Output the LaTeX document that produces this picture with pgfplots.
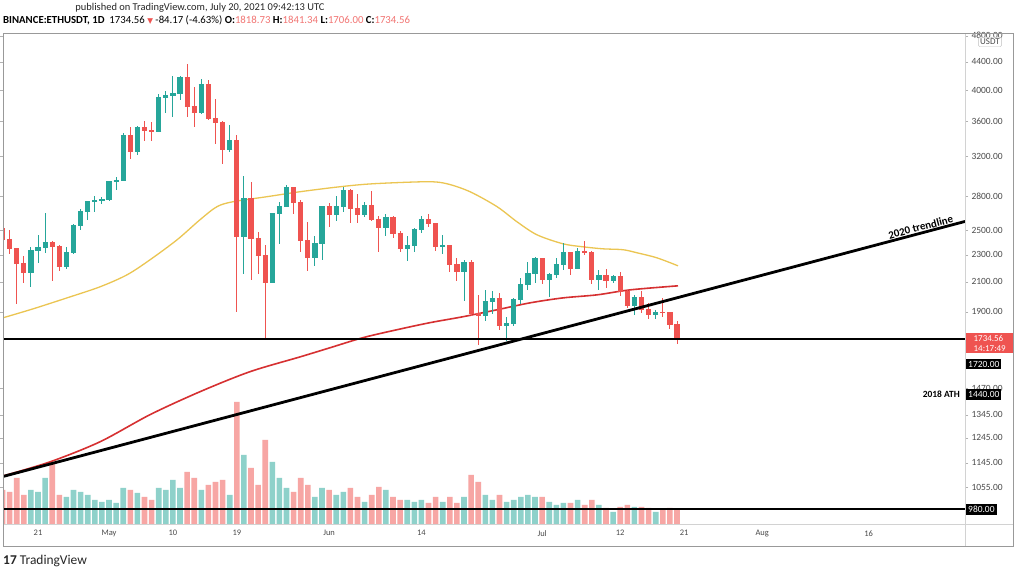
\documentclass[border=0pt]{standalone}
\usepackage{pgfplots}
\pgfplotsset{compat=1.18}
\usepackage{pgfplotstable}
\usepackage{fontspec}
\setmainfont{Carlito}
\newfontfamily\symfont{DejaVu Sans}

\definecolor{up}{HTML}{26A69A}
\definecolor{down}{HTML}{EF5350}
\definecolor{ma50}{HTML}{EBC552}
\definecolor{ma200}{HTML}{D63031}
\definecolor{txt}{HTML}{4A4A4A}

% day number d: 0 = 1 May 2021; v = volume (thousand ETH)
\pgfplotstableread{
d   o       h       l      c       v
-11 2165    2364    2067   2331    1020
-10 2331    2460    2240   2357    960
-9  2357    2644    2315   2398    1380
-6  2213    2363    2197   2315    810
-5  2315    2550    2307   2534    1020
-4  2534    2685    2502   2662    960
-3  2662    2760    2585   2747    870
-2  2747    2798    2660   2757    720
-1  2757    2796    2725   2774    660
0   2774    2950    2760   2945    720
1   2945    2985    2862   2950    630
2   2950    3457    2945   3431    1080
4   3253    3542    3211   3524    930
7   3484    3948    3480   3904    1080
8   3904    3984    3700   3928    1020
9   3928    4197    3650   3952    1320
10  3952    4198    3862   4168    1080
13  3715    4147    3691   4079    1020
17  3280    3562    3250   3382    870
19  2445    2993    2160   2775    2070
23  2097    2646    2097   2643    1860
24  2643    2750    2382   2706    1380
25  2706    2910    2701   2887    1080
29  2282    2448    2218   2389    810
30  2389    2709    2262   2707    1080
32  2634    2800    2580   2707    870
33  2707    2890    2652   2856    960
36  2630    2744    2612   2715    660
39  2517    2640    2448   2609    1020
42  2353    2448    2250   2372    720
43  2372    2521    2325   2508    660
44  2508    2620    2475   2587    720
47  2366    2455    2307   2373    660
50  2174    2260    1970   2245    810
53  1875    2044    1843   1970    870
54  1970    2040    1887   1990    720
56  1813    1870    1720   1829    660
57  1829    1991    1813   1982    720
58  1982    2131    1952   2080    810
59  2080    2242    2045   2160    870
60  2160    2283    2092   2275    810
62  2114    2165    2000   2150    660
63  2150    2275    2125   2226    570
64  2226    2390    2188   2322    630
66  2198    2351    2190   2323    720
69  2115    2185    2044   2146    570
71  2112    2151    2095   2140    360
74  1940    2013    1880   1995    510
77  1880    1913    1855   1898    360
}\upT

\pgfplotstableread{
d   o       h       l      c       v
-15 2515    2548    2300   2423    1020
-14 2423    2497    2303   2347    960
-13 2347    2357    1950   2236    1380
-12 2236    2290    2090   2165    870
-8  2398    2410    2110   2364    1860
-7  2364    2374    2180   2213    870
3   3431    3530    3169   3253    1020
5   3524    3600    3368   3491    810
6   3491    3590    3373   3484    720
11  4168    4372    3650   3785    1560
12  3785    4037    3530   3715    1380
14  4079    4130    3622   3640    1170
15  3640    3884    3340   3587    1260
16  3587    3609    3120   3280    1320
18  3382    3437    1900   2445    3660
20  2775    2938    2113   2430    1680
21  2430    2485    2160   2295    1170
22  2295    2380    1728   2097    2520
26  2887    2891    2636   2742    960
27  2742    2762    2321   2417    1380
28  2417    2570    2177   2282    1170
31  2707    2740    2528   2634    1020
34  2856    2867    2560   2689    1080
35  2689    2818    2558   2630    810
37  2715    2846    2580   2590    870
38  2590    2620    2320   2517    1110
40  2609    2620    2435   2472    810
41  2472    2494    2320   2353    720
45  2587    2634    2524   2552    630
46  2552    2556    2331   2366    810
48  2373    2378    2175   2226    810
49  2226    2275    2110   2174    630
51  2245    2260    1872   1888    1470
52  1888    2013    1700   1875    1260
55  1990    2024    1788   1813    870
61  2275    2276    2085   2114    810
65  2322    2324    2150   2198    630
67  2323    2410    2300   2317    570
68  2317    2329    2083   2115    720
70  2146    2190    2060   2112    480
72  2140    2175    2005   2036    510
73  2036    2046    1923   1940    570
75  1995    2035    1890   1912    510
76  1912    1958    1856   1880    480
78  1898    1990    1870   1894    420
79  1894    1897    1791   1819    480
80  1818.73 1841.34 1706   1734.56 420
}\downT

% moving averages
\pgfplotstableread{
d      p
-14.93 1862
-10.7  1919
-5.92  1991
-1.27  2066
2.54   2151
5.77   2262
9.58   2419
12.82  2588
15.21  2704
17.46  2749
22.25  2796
26.9   2843
32.54  2891
37.18  2920
44.79  2940
47.6   2920
50.85  2843
54.65  2704
57.46  2570
60.28  2460
63.94  2387
66.76  2363
69.58  2347
72.39  2340
74.37  2316
77.18  2277
80.14  2217
}\maA

\pgfplotstableread{
d      p
-14.93 1095
-8.31  1148
-1.27  1228
5.77   1345
12.82  1453
19.86  1554
26.9   1633
31.13  1684
35.77  1742
40.56  1789
45.21  1832
49.86  1869
54.65  1913
59.3   1958
63.94  1991
68.73  2011
73.38  2045
80.14  2073
}\maB

\pgfplotsset{
  pane/.style={at={(3bp,44bp)}, anchor=south west, scale only axis,
    width=962bp, height=491bp, xmin=-14.93, xmax=120.56},
  wick/.style={draw=none, mark=none, forget plot,
    error bars/.cd, y dir=both, y explicit, error mark=none,
    error bar style={line width=1bp, draw=#1}},
  body/.style={draw=none, mark=none, forget plot,
    error bars/.cd, y dir=both, y explicit, error mark=-,
    error mark options={line width=1bp, mark size=2.6bp, rotate=90, draw=#1},
    error bar style={line width=5.2bp, draw=#1}},
}

\begin{document}
\begin{tikzpicture}
\path[use as bounding box, fill=white] (0,0) rectangle (1016bp,568bp);

% volume
\begin{axis}[pane, ymin=0, ymax=14730, hide axis]
\addplot[ybar, bar width=5.6bp, bar shift=0pt, draw=none, fill=up!52!white]
  table[x=d, y=v] {\upT};
\addplot[ybar, bar width=5.6bp, bar shift=0pt, draw=none, fill=down!52!white]
  table[x=d, y=v] {\downT};
\end{axis}

% price
\begin{axis}[pane, ymode=log, ymin=932, ymax=4844,
  axis line style={draw=none},
  yticklabel pos=right,
  ytick={4800,4400,4000,3600,3200,2800,2500,2300,2100,1900,1470,1345,1245,1145,1055},
  yticklabels={4800.00,4400.00,4000.00,3600.00,3200.00,2800.00,2500.00,2300.00,2100.00,1900.00,1470.00,1345.00,1245.00,1145.00,1055.00},
  xtick={-10,0,9,18,31,44,61,72,81,92,107},
  xticklabels={21,May,10,19,Jun,14,Jul,12,21,Aug,16},
  tick align=outside, major tick length=3bp, minor tick length=0pt,
  ytick style={gray!60}, xtick style={draw=none},
  ticklabel style={font=\fontsize{9.5}{11}\selectfont, text=txt},
  xticklabel style={font=\fontsize{8.5}{10}\selectfont},
]
\addplot[ma200, line width=1.6bp, smooth] table[x=d, y=p] {\maB};
\addplot[ma50, line width=1.3bp, smooth] table[x=d, y=p] {\maA};

\addplot[wick=up] table[x=d, y=c,
  y error plus expr=\thisrow{h}-\thisrow{c},
  y error minus expr=\thisrow{c}-\thisrow{l}] {\upT};
\addplot[wick=down] table[x=d, y=c,
  y error plus expr=\thisrow{h}-\thisrow{c},
  y error minus expr=\thisrow{c}-\thisrow{l}] {\downT};
\addplot[body=up] table[x=d, y=c,
  y error plus expr=0,
  y error minus expr=\thisrow{c}-\thisrow{o}] {\upT};
\addplot[body=down] table[x=d, y=c,
  y error plus expr=\thisrow{o}-\thisrow{c},
  y error minus expr=0] {\downT};

\addplot[black, line width=2.2bp] coordinates {(-14.93,1734.56) (120.56,1734.56)};
\addplot[black, line width=1.5bp] coordinates {(-14.93,980) (120.56,980)};
\addplot[black, line width=2.8bp] coordinates {(-14.93,1093) (120.56,2573)};
\end{axis}

% frame
\draw[gray!35, line width=0.6bp] (965bp,22bp) -- (965bp,535bp);
\draw[gray!35, line width=0.6bp] (3bp,44bp) -- (1013bp,44bp);
\draw[gray!80, line width=0.8bp] (3bp,22bp) rectangle (1013bp,535bp);

% annotations
\node[anchor=south, rotate=14.8, inner sep=1bp,
  font=\bfseries\fontsize{11}{12}\selectfont] at (922bp,336bp) {2020 trendline};
\node[anchor=east, inner sep=0pt, font=\bfseries\fontsize{9.5}{10}\selectfont]
  at (960bp,173.5bp) {2018 ATH};

% price scale labels
\node[draw=gray!50, fill=white, rounded corners=1.5bp, inner sep=1.8bp,
  font=\fontsize{9}{10}\selectfont, text=txt] at (990bp,526bp) {USDT};
\node[fill=down, text=white, anchor=north west, inner sep=2bp, align=left,
  font=\fontsize{9}{10}\selectfont, minimum width=47bp] at (966bp,235bp)
  {1734.56\\14:17:49};
\node[fill=black, text=white, anchor=west, inner sep=2bp,
  font=\fontsize{9.5}{10}\selectfont] at (966bp,204bp) {1720.00};
\node[fill=black, text=white, anchor=west, inner sep=2bp,
  font=\fontsize{9.5}{10}\selectfont] at (966bp,173.5bp) {1440.00};
\node[fill=black, text=white, anchor=west, inner sep=2bp,
  font=\fontsize{9.5}{10}\selectfont] at (966bp,58.5bp) {980.00};

% header
\node[anchor=base, inner sep=0pt, font=\fontsize{10.5}{12}\selectfont, text=black!85]
  at (200bp,557bp) {published on TradingView.com, July 20, 2021 09:42:13 UTC};
\node[anchor=base west, inner sep=0pt, font=\fontsize{10.8}{12}\selectfont]
  at (3bp,544bp) {\textbf{BINANCE:ETHUSDT, 1D}\ \ 1734.56
  {\color{down}\symfont\fontsize{7.5}{8}\selectfont ▼} -84.17 (-4.63\%)
  \textbf{O:}{\color{down!80}1818.73} \textbf{H:}{\color{down!80}1841.34}
  \textbf{L:}{\color{down!80}1706.00} \textbf{C:}{\color{down!80}1734.56}};

% footer
\node[anchor=base west, inner sep=0pt, font=\fontsize{13.5}{15}\selectfont, text=black!85]
  at (3bp,4bp) {\textbf{17} TradingView};
\end{tikzpicture}
\end{document}
